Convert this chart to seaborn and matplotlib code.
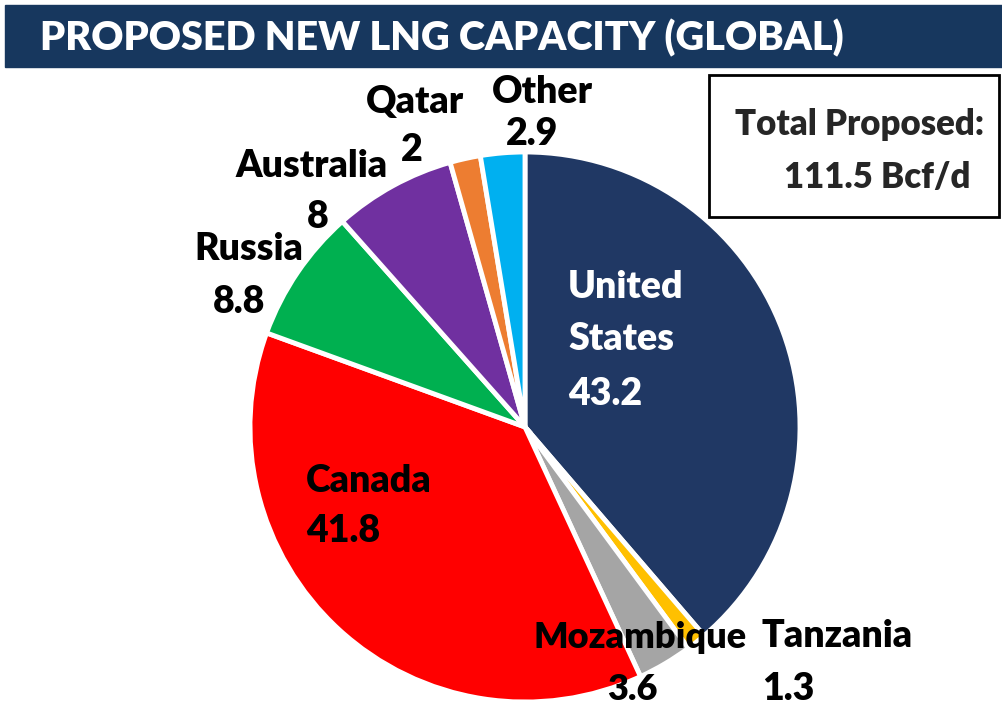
import matplotlib
matplotlib.use('Agg')
import matplotlib.pyplot as plt
import seaborn as sns
from matplotlib.patches import Rectangle

countries = ['United States', 'Tanzania', 'Mozambique', 'Canada',
             'Russia', 'Australia', 'Qatar', 'Other']
capacity = [43.2, 1.3, 3.6, 41.8, 8.8, 8, 2, 2.9]
label_text = ['United\nStates\n43.2', 'Tanzania\n1.3', 'Mozambique\n3.6', 'Canada\n41.8',
              'Russia\n8.8', 'Australia\n8', 'Qatar\n2', 'Other\n2.9']
slice_colors = ['#203864', '#FFC000', '#A5A5A5', '#FF0000',
                '#00B050', '#7030A0', '#ED7D31', '#00B0F0']
title = 'PROPOSED NEW LNG CAPACITY (GLOBAL)'
total_lines = ['Total Proposed:', '111.5 Bcf/d']

sns.set_style('white')
plt.rcParams['font.family'] = ['Lato', 'DejaVu Sans']

W, H = 1002, 705
fig = plt.figure(figsize=(W / 100, H / 100), dpi=100)

# pie in its own axes so the circle stays round
cx, cy, r = 525, 427, 275
pax = fig.add_axes([(cx - r) / W, (H - cy - r) / H, 2 * r / W, 2 * r / H])
pax.pie(capacity, colors=slice_colors, startangle=90, counterclock=False,
        wedgeprops=dict(edgecolor='white', linewidth=3.5))
pax.set_xlim(-1, 1)
pax.set_ylim(-1, 1)
pax.set_aspect('equal')
pax.axis('off')

# overlay axes in pixel coordinates for the title, box and labels
ax = fig.add_axes([0, 0, 1, 1])
ax.set_xlim(0, W)
ax.set_ylim(H, 0)
ax.axis('off')
ax.patch.set_alpha(0)

# title bar
ax.add_patch(Rectangle((5, 5), W - 5, 62, color='#17375E', zorder=1))
ax.text(40, 50, title, color='white', fontsize=28.5, fontweight='heavy',
        va='baseline', ha='left', zorder=2)

# total box
ax.add_patch(Rectangle((709, 75), 290, 142, fill=False, edgecolor='black',
                       linewidth=2, zorder=2))
ax.text(860, 135, total_lines[0], fontsize=25, fontweight='heavy',
        ha='center', va='baseline')
ax.text(877, 188, total_lines[1], fontsize=25, fontweight='heavy',
        ha='center', va='baseline')

# label layout: x per line, baseline y per line, alignment, colour
label_pos = {
    'United States': ([568, 568, 568], [298, 350, 405], 'left', 'white'),
    'Tanzania': ([762, 762], [647, 700], 'left', 'black'),
    'Mozambique': ([640, 632], [648, 700], 'center', 'black'),
    'Canada': ([306, 306], [492, 542], 'left', 'black'),
    'Russia': ([249, 239], [260, 313], 'center', 'black'),
    'Australia': ([312, 318], [177, 228], 'center', 'black'),
    'Qatar': ([415, 412], [113, 161], 'center', 'black'),
    'Other': ([542, 532], [103, 145], 'center', 'black'),
}
for name, txt in zip(countries, label_text):
    xs, ys, ha, col = label_pos[name]
    for line, x, y in zip(txt.split('\n'), xs, ys):
        size = 26 if name == 'Mozambique' else 27
        ax.text(x, y, line, fontsize=size, fontweight='heavy',
                color=col, ha=ha, va='baseline', zorder=5)

fig.savefig('out.png', dpi=100)
